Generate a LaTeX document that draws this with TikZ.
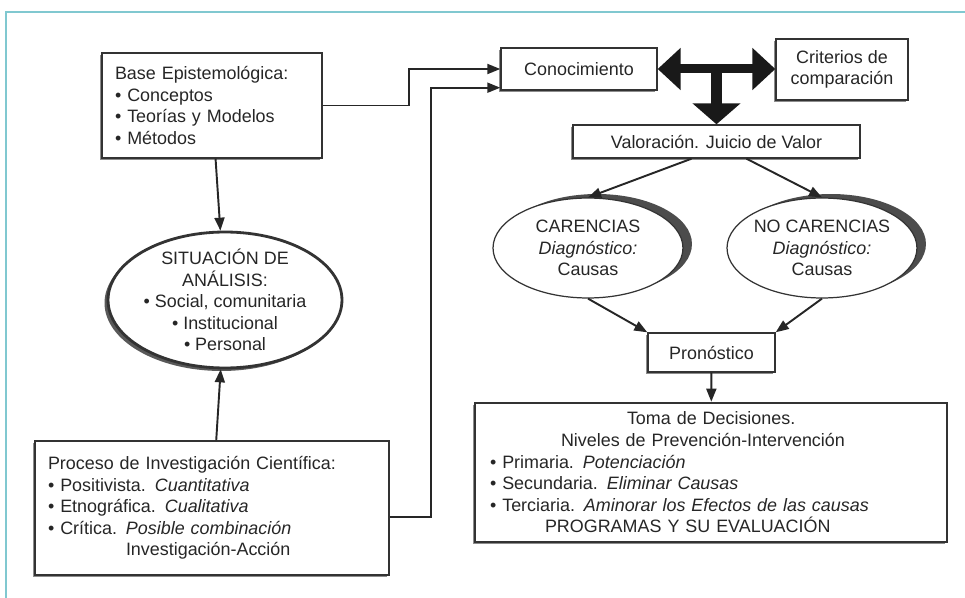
\documentclass[tikz,border=0pt]{standalone}
\usepackage{fontspec}
\setmainfont{Liberation Sans}
\usepackage{tikz}
\usetikzlibrary{arrows.meta,positioning,shapes.geometric,shadows}
\definecolor{marco}{RGB}{128,200,208}
\begin{document}
\begin{tikzpicture}[x=0.02cm,y=-0.02cm,font=\fontsize{10.2}{12.3}\selectfont,
caja/.style={draw=black!80,line width=.8pt,fill=white,text=black!85,inner xsep=.26cm,drop shadow={shadow xshift=-.04cm,shadow yshift=-.04cm,fill=black!45,opacity=1}},
elipse/.style={ellipse,draw=black!80,fill=white,text=black!85,align=center,inner xsep=-.1cm,inner ysep=-.25cm},
fina/.style={-{Triangle[length=.26cm,width=.2cm]},line width=1.1pt,draw=black!85},
gruesa/.style={draw=black!90,line width=.18cm}]
\useasboundingbox (0,0) rectangle (965,598);
\draw[marco,line width=.05cm] (6,598)--(6,12)--(965,12);
% izquierda
\node[caja,text width=3.88cm,minimum height=2.1cm,align=left] at (212,105.5)(base){Base Epistemológica:\\• Conceptos\\• Teorías y Modelos\\• Métodos};
\node[elipse,line width=1.6pt,minimum width=4.68cm,minimum height=2.72cm,drop shadow={shadow xshift=-.07cm,shadow yshift=-.06cm,fill=black!65,opacity=1}] at (225,300)(situacion){SITUACIÓN DE\\ANÁLISIS:\\• Social, comunitaria\\• Institucional\\• Personal};
\node[caja,text width=6.56cm,minimum height=2.68cm,align=left] at (212,508)(proceso){Proceso de Investigación Científica:\\• Positivista. \textit{Cuantitativa}\\• Etnográfica. \textit{Cualitativa}\\• Crítica. \textit{Posible combinación}\\\hspace*{1.56cm}Investigación-Acción};
% derecha
\node[caja,minimum width=3.12cm,minimum height=.84cm] at (579,69)(conoc){Conocimiento};
\node[caja,minimum width=2.64cm,minimum height=1.22cm,align=center] at (842,69.5)(crit){Criterios de\\comparación};
\node[caja,minimum width=5.74cm,minimum height=.66cm] at (716.5,141.5)(valor){Valoración. Juicio de Valor};
\node[elipse,line width=.7pt,minimum width=3.8cm,minimum height=2cm,drop shadow={shadow xshift=.18cm,shadow yshift=.08cm,fill=black!70,opacity=1}] at (588,248)(car){CARENCIAS\\\textit{Diagnóstico:}\\Causas};
\node[elipse,line width=.7pt,minimum width=3.8cm,minimum height=2cm,drop shadow={shadow xshift=.18cm,shadow yshift=.08cm,fill=black!70,opacity=1}] at (822,248)(nocar){NO CARENCIAS\\\textit{Diagnóstico:}\\Causas};
\node[caja,minimum width=2.54cm,minimum height=.78cm] at (711.5,352.5)(pron){Pronóstico};
\node[caja,line width=1.5pt,inner xsep=.3cm,text width=8.84cm,minimum height=2.78cm,align=left] at (711,472.5)(toma){\hspace*{2.74cm}Toma de Decisiones.\\\hspace*{1.42cm}Niveles de Prevención-Intervención\\• Primaria. \textit{Potenciación}\\• Secundaria. \textit{Eliminar Causas}\\• Terciaria. \textit{Aminorar los Efectos de las causas}\\\hspace*{1.1cm}PROGRAMAS Y SU EVALUACIÓN};
\coordinate (cruce) at (valor.north |- conoc.east);
% conectores
\draw[fina](base)--(situacion);\draw[fina](proceso)--(situacion);
\draw[fina](base.east)--++(86,0)|-(conoc.west);
\draw[fina]([yshift=-.18cm]proceso.east)--++(41,0)|-([yshift=.06cm]conoc.south west);
\draw[gruesa,{Triangle[length=.46cm,width=.82cm]}-{Triangle[length=.46cm,width=.82cm]}](conoc.east)--(conoc.east -| crit.west);
\draw[gruesa,line width=.22cm,-{Triangle[length=.42cm,width=.94cm]}](cruce)--(valor.north);
\draw[fina]([xshift=-.5cm]valor.south)--(car.north);\draw[fina]([xshift=.6cm]valor.south)--(nocar.north);
\draw[fina](car.south)--(pron.north west);\draw[fina](nocar.south)--(pron.north east);
\draw[fina](pron)--(toma);
\end{tikzpicture}
\end{document}
